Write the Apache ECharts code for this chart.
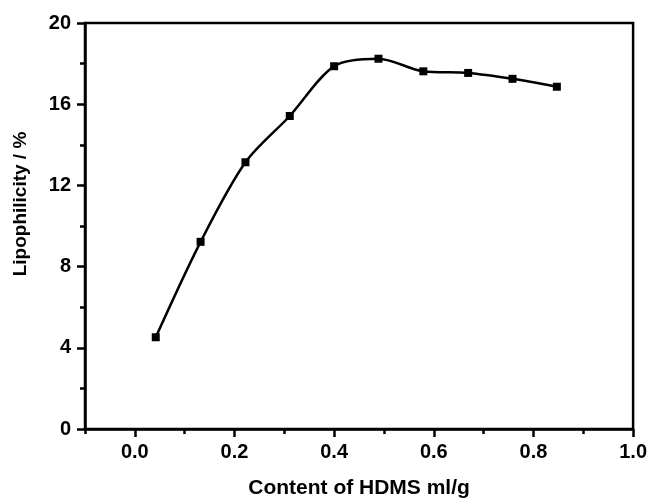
<!DOCTYPE html>
<html>
<head>
<meta charset="utf-8">
<style>
  html, body { margin: 0; padding: 0; background: #fff; }
  #chart { width: 650px; height: 504px; }
</style>
<script src="https://cdn.jsdelivr.net/npm/echarts@6/dist/echarts.min.js"></script>
</head>
<body>
<div id="chart"></div>
<script>
// measured points
var hdmsContent = [0.042, 0.132, 0.222, 0.311, 0.400, 0.489, 0.579, 0.669, 0.758, 0.847];
var lipophilicity = [4.52, 9.22, 13.14, 15.42, 17.87, 18.24, 17.62, 17.54, 17.25, 16.86];

var xMajorTicks = [0, 0.2, 0.4, 0.6, 0.8, 1.0];
var xMinorTicks = [-0.1, 0.1, 0.3, 0.5, 0.7, 0.9];

var chart = echarts.init(document.getElementById('chart'));

var font = 'Liberation Sans, Arial, sans-serif';
var points = hdmsContent.map(function (x, i) { return [x, lipophilicity[i]]; });

var option = {
  animation: false,
  grid: {
    left: 85,
    right: 15,
    top: 23,
    bottom: 72,
    show: true,
    borderColor: '#000',
    borderWidth: 2.5
  },
  xAxis: [{
    type: 'value',
    min: -0.1,
    max: 1.0,
    position: 'bottom',
    name: 'Content of HDMS ml/g',
    nameLocation: 'middle',
    nameGap: 49,
    nameTextStyle: { fontFamily: font, fontWeight: 'bold', fontSize: 21, color: '#000' },
    axisLine: { onZero: false, lineStyle: { color: '#000', width: 2.5 } },
    axisTick: { customValues: xMajorTicks, length: 8, lineStyle: { color: '#000', width: 2.5 } },
    axisLabel: {
      customValues: xMajorTicks,
      margin: 13,
      fontFamily: font, fontWeight: 'bold', fontSize: 20, color: '#000',
      formatter: function (v) { return v.toFixed(1); }
    },
    splitLine: { show: false }
  }, {
    type: 'value',
    min: -0.1,
    max: 1.0,
    position: 'bottom',
    axisLine: { show: false, onZero: false },
    axisTick: { customValues: xMinorTicks, length: 5, lineStyle: { color: '#000', width: 2.5 } },
    axisLabel: { show: false },
    splitLine: { show: false }
  }],
  yAxis: {
    type: 'value',
    min: 0,
    max: 20,
    interval: 4,
    name: 'Lipophilicity / %',
    nameLocation: 'middle',
    nameGap: 55,
    nameTextStyle: { fontFamily: font, fontWeight: 'bold', fontSize: 19, color: '#000', padding: [0, 0, 0, 44] },
    axisLine: { show: true, onZero: false, lineStyle: { color: '#000', width: 2.5 } },
    axisTick: { show: true, length: 8, lineStyle: { color: '#000', width: 2.5 } },
    minorTick: { show: true, splitNumber: 2, length: 5, lineStyle: { color: '#000', width: 2.5 } },
    axisLabel: { margin: 14, fontFamily: font, fontWeight: 'bold', fontSize: 20, color: '#000' },
    splitLine: { show: false }
  },
  series: [{
    type: 'line',
    data: points,
    smooth: 0.3,
    symbol: 'rect',
    symbolSize: 8,
    itemStyle: { color: '#000' },
    lineStyle: { color: '#000', width: 2.5 }
  }]
};

chart.setOption(option);
</script>
</body>
</html>
